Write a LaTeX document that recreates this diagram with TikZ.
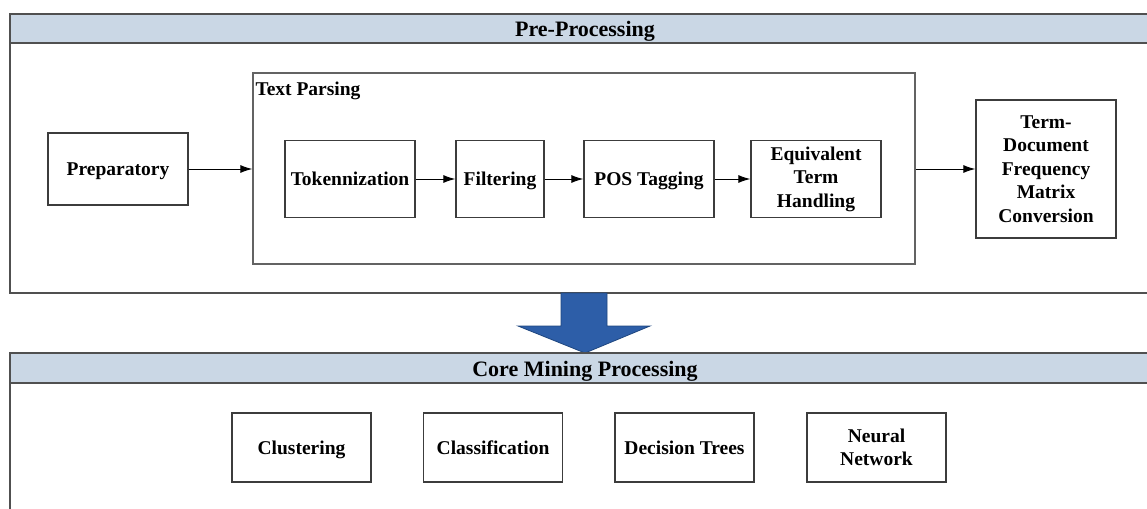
\documentclass[tikz,border=0pt]{standalone}
\usepackage{fontspec}
\setmainfont{Liberation Serif}
\usetikzlibrary{arrows.meta}
\definecolor{headfill}{HTML}{CAD7E5}
\definecolor{bigblue}{HTML}{2D5EA8}
\definecolor{bigblueline}{HTML}{1E467F}
\definecolor{boxline}{HTML}{3C3C3C}
\tikzset{
	box/.style={draw=boxline, line width=1.3pt, fill=white, align=center, inner sep=2pt,
		font=\fontsize{19.5}{23.5}\selectfont\bfseries},
	oneline/.style={text depth=0pt},
	section/.style={draw=boxline!90, line width=1.6pt},
	headtext/.style={font=\fontsize{22}{26}\selectfont\bfseries},
	flow/.style={line width=1pt, -{Latex[length=12pt,width=8pt]}}
}
\begin{document}
\begin{tikzpicture}[x=1pt, y=-1pt]
	\useasboundingbox (0,0) rectangle (1147,508);
	\clip (0,0) rectangle (1147,508);
	
	% pre-processing part
	\draw[section, fill=white] (10,14) rectangle (1165,293);
	\draw[section, fill=headfill] (10,14) rectangle (1165,43);
	\node[headtext, oneline] (pre) at (585,29) {Pre-Processing};
	
	\node[box, oneline, minimum width=140pt, minimum height=72pt] (prep) at (118,169) {Preparatory};
	\node[box, line width=1.3pt, draw=boxline!80, minimum width=662pt, minimum height=191pt] (parse) at (584,168.5) {};
	\node[anchor=north west, inner sep=3pt, yshift=-6pt, font=\fontsize{19.5}{23.5}\selectfont\bfseries] (parselbl) at (parse.north west) {Text Parsing};
	
	\node[box, oneline, minimum width=130pt, minimum height=77pt] (tok) at (350,179) {Tokennization};
	\node[box, oneline, minimum width=88pt, minimum height=77pt] (filt) at (500,179) {Filtering};
	\node[box, oneline, minimum width=130pt, minimum height=77pt] (pos) at (649,179) {POS Tagging};
	\node[box, minimum width=130pt, minimum height=77pt] (equiv) at (816,179) {Equivalent\\Term\\Handling};
	\node[box, minimum width=140pt, minimum height=138pt] (tdm) at (1046,169) {Term-\\Document\\Frequency\\Matrix\\Conversion};
	
	\draw[flow] (prep) -- (prep -| parse.west);
	\draw[flow] (tok) -- (filt);
	\draw[flow] (filt) -- (pos);
	\draw[flow] (pos) -- (equiv);
	\draw[flow] (tdm -| parse.east) -- (tdm);
	
	% big arrow down
	\draw[fill=bigblue, draw=bigblueline, line width=0.8pt]
		(561,293) -- (607,293) -- (607,326) -- (650,326) -- (585,353) -- (518,326) -- (561,326) -- cycle;
	
	% core mining part
	\draw[section, fill=white] (10,353) rectangle (1165,530);
	\draw[section, fill=headfill] (10,353) rectangle (1165,383);
	\node[headtext, oneline] (core) at (585,368.5) {Core Mining Processing};
	
	\node[box, oneline, minimum width=139pt, minimum height=69pt] (clust) at (301.5,447.5) {Clustering};
	\node[box, oneline, minimum width=139pt, minimum height=69pt] (classif) at (493,447.5) {Classification};
	\node[box, oneline, minimum width=139pt, minimum height=69pt] (dtree) at (684.5,447.5) {Decision Trees};
	\node[box, minimum width=139pt, minimum height=69pt] (neural) at (876.5,447.5) {Neural\\Network};
\end{tikzpicture}
\end{document}
